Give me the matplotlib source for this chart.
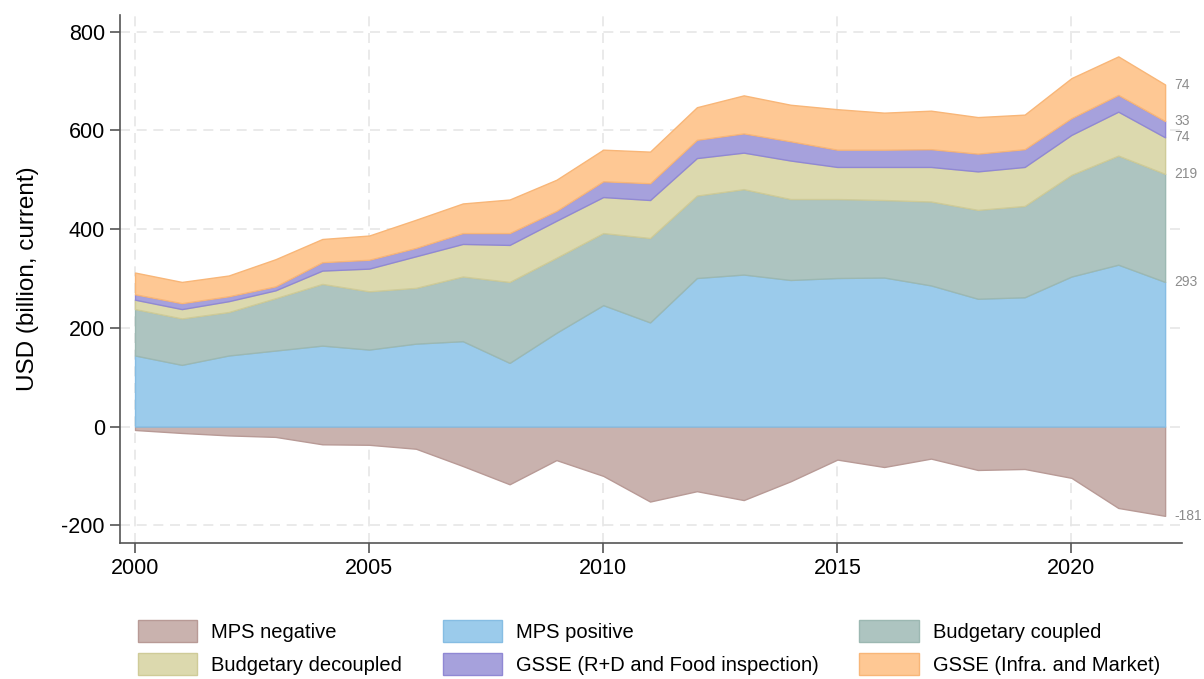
import numpy as np
import matplotlib
matplotlib.use("Agg")
import matplotlib.pyplot as plt
from matplotlib.patches import Patch

plt.rcParams['font.family'] = ['Liberation Sans', 'DejaVu Sans']
plt.rcParams['axes.unicode_minus'] = False

years = list(range(2000, 2023))

mps_negative = [-7, -13, -18, -21, -36, -37, -45, -80, -117, -68, -100, -152,
                -131, -149, -111, -67, -82, -65, -88, -86, -104, -165, -181]
mps_positive = [144, 125, 144, 154, 164, 156, 168, 173, 129, 190, 246, 211,
                301, 308, 297, 301, 302, 286, 259, 262, 304, 328, 293]
budget_coupled = [94, 94, 88, 106, 125, 118, 113, 131, 164, 152, 146, 171,
                  167, 173, 164, 160, 157, 170, 180, 185, 206, 221, 219]
budget_decoupled = [19, 19, 22, 16, 27, 46, 64, 66, 75, 75, 73, 77,
                    76, 74, 78, 65, 67, 70, 78, 79, 81, 89, 74]
gsse_rd = [11, 12, 10, 8, 17, 18, 17, 22, 24, 20, 32, 34,
           37, 39, 39, 35, 35, 36, 36, 36, 34, 34, 33]
gsse_infra = [44, 43, 42, 55, 47, 49, 57, 60, 68, 63, 64, 64,
              66, 77, 74, 82, 75, 78, 74, 70, 81, 78, 74]

labels = ["MPS negative", "MPS positive", "Budgetary coupled",
          "Budgetary decoupled", "GSSE (R+D and Food inspection)",
          "GSSE (Infra. and Market)"]
fills = ["#c9b2ae", "#9bcbeb", "#adc4c0", "#dcd9ae", "#a6a1dc", "#fec894"]
edges = ["#b89a96", "#86bde3", "#9cb8b2", "#cfcb98", "#9088d4", "#f8b678"]

fig = plt.figure(figsize=(12.04, 6.79), dpi=100)
ax = fig.add_axes([0.0997, 0.2003, 0.882, 0.7777])

x = np.array(years)
ax.fill_between(x, 0, mps_negative, facecolor=fills[0], edgecolor=edges[0],
                linewidth=1, zorder=2)

stack = [mps_positive, budget_coupled, budget_decoupled, gsse_rd, gsse_infra]
base = np.zeros(len(x))
for i, s in enumerate(stack):
    top = base + np.array(s)
    ax.fill_between(x, base, top, facecolor=fills[i + 1], edgecolor=edges[i + 1],
                    linewidth=1, zorder=2)
    base = top

# end-of-series value labels
last = [s[-1] for s in stack]
cum = np.cumsum(last)
for v, yv in zip(last, cum):
    ax.text(years[-1] + 0.2, yv, "%d" % v, fontsize=10, color="#8c8c8c",
            va="center", ha="left")
ax.text(years[-1] + 0.2, mps_negative[-1], "%d" % mps_negative[-1], fontsize=10,
        color="#8c8c8c", va="center", ha="left")

ax.set_xlim(1999.68, 2022.36)
ax.set_ylim(-236, 834)
ax.set_xticks([2000, 2005, 2010, 2015, 2020])
ax.set_yticks([-200, 0, 200, 400, 600, 800])
ax.tick_params(labelsize=15.5, length=7, width=1.2, color="#555555", pad=4)
ax.set_ylabel("USD (billion, current)", fontsize=17.5, labelpad=16)

ax.grid(True, linestyle=(0, (6, 4)), color="#e6e6e6", linewidth=1.2, zorder=0)
ax.set_axisbelow(True)
for side in ["top", "right"]:
    ax.spines[side].set_visible(False)
for side in ["left", "bottom"]:
    ax.spines[side].set_color("#555555")
    ax.spines[side].set_linewidth(1.2)

# legend laid out row by row
handles = [Patch(facecolor=f, edgecolor=e, linewidth=1) for f, e in zip(fills, edges)]
order = [0, 3, 1, 4, 2, 5]
fig.legend([handles[i] for i in order], [labels[i] for i in order],
           loc="upper left", bbox_to_anchor=(0.1146, 0.0869), ncol=3,
           frameon=False, fontsize=14.5, handlelength=2.95, handleheight=1.3,
           handletextpad=0.7, columnspacing=2.0, labelspacing=0.55,
           borderpad=0, borderaxespad=0)

fig.savefig("out.png", dpi=100)
